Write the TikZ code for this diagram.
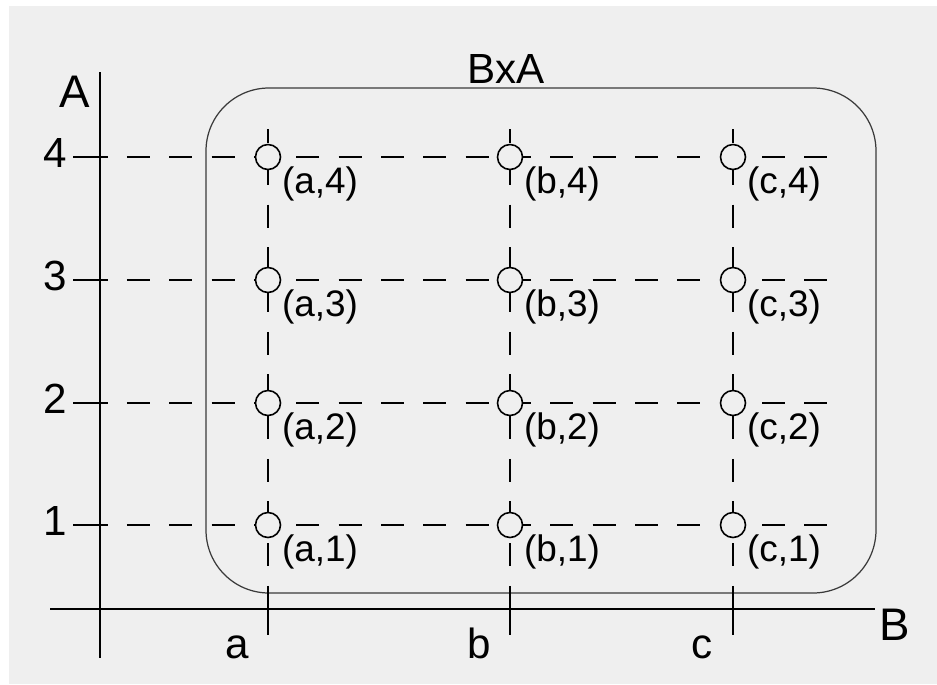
\documentclass[tikz,border=0pt]{standalone}
\usepackage{fontspec}
\setmainfont{Liberation Sans}
\usetikzlibrary{positioning}
\definecolor{Paper}{HTML}{EFEFEF}
\definecolor{Frame}{HTML}{3A3A3A}

\begin{document}
\begin{tikzpicture}[x=0.02cm, y=-0.02cm, axis/.style={line width=1.6pt}, grid/.style={line width=1.5pt, dash pattern=on 13.1pt off 11pt}, dot/.style={circle, draw, line width=0.9pt, fill=Paper, minimum size=0.5cm, inner sep=0pt}, pair/.style={anchor=north west, inner xsep=2.5pt, inner ysep=0pt, font=\fontsize{21}{24}\selectfont}, ticklbl/.style={anchor=base, font=\fontsize{24}{28}\selectfont}, axislbl/.style={anchor=base, font=\fontsize{26}{30}\selectfont}]
\useasboundingbox (0,0) rectangle (937,684);
\fill[white] (0,0) rectangle (937,684);
\fill[Paper] (9,6) rectangle (937,684);
% the set BxA
\draw[Frame, line width=0.7pt, rounded corners=1.26cm] (206,88) rectangle (876,593);
\node[anchor=base, font=\fontsize{24}{28}\selectfont] (bxa) at (506,83) {BxA};
% axes
\coordinate (atop) at (100,72); \coordinate (abot) at (100,658);
\coordinate (bleft) at (50,609); \coordinate (bright) at (875,609);
\draw[axis] (atop) -- (abot);
\draw[axis] (bleft) -- (bright);
\node[axislbl] (la) at (75,107) {A};
\node[axislbl] (lb) at (895,640) {B};
% rows 1 to 4
\foreach \n/\y in {1/525,2/403,3/280,4/157}{
  \coordinate (t\n) at (73,\y); \coordinate (s\n) at (108,\y); \coordinate (e\n) at (828,\y);
  \draw[axis] (t\n) -- (s\n);
  \node[ticklbl] (n\n) at (55,{\y+10}) {\n};
  \draw[grid, dash phase=13.3pt] (s\n) -- (e\n);
}
% columns a, b, c with their points
\foreach \c/\x in {a/268,b/510,c/733}{
  \coordinate (u\c) at (\x,129); \coordinate (d\c) at (\x,588); \coordinate (k\c) at (\x,635);
  \draw[axis] (d\c) -- (k\c);
  \node[ticklbl] (n\c) at ({\x-31},658) {\c};
  \draw[grid, dash phase=5.1pt] (u\c) -- (d\c);
  \foreach \n/\y in {1/525,2/403,3/280,4/157}{
    \node[dot] (p\c\n) at (\x,\y) {};
    \node[pair] (q\c\n) at (p\c\n.south east) {(\c,\n)};
  }
}
\end{tikzpicture}
\end{document}
